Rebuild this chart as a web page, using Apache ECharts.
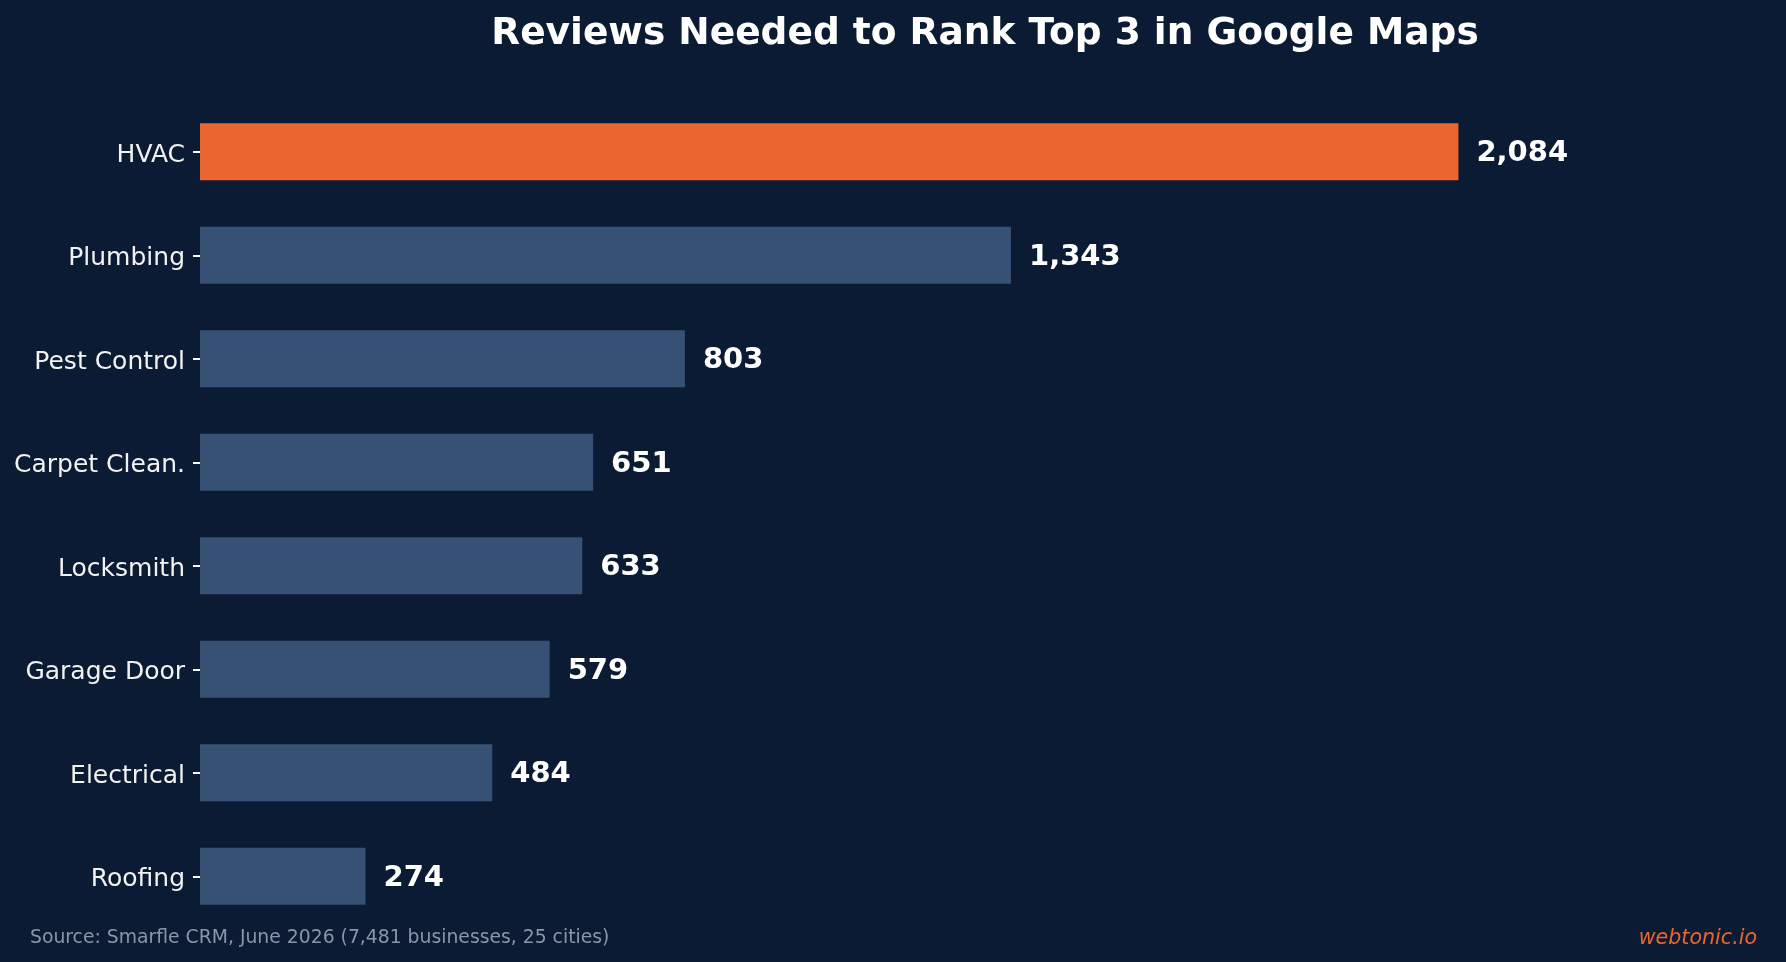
<!DOCTYPE html>
<html>
<head>
<meta charset="utf-8">
<script src="https://cdn.jsdelivr.net/npm/echarts@6/dist/echarts.min.js"></script>
<style>
  html, body { margin: 0; padding: 0; background: #0c1b34; }
  #main { width: 1786px; height: 962px; }
</style>
</head>
<body>
<div id="main"></div>
<script>
// trades, top to bottom
const categories = ['HVAC', 'Plumbing', 'Pest Control', 'Carpet Clean.', 'Locksmith', 'Garage Door', 'Electrical', 'Roofing'];
const reviews = [2084, 1343, 803, 651, 633, 579, 484, 274];
const highlightIndex = 0;

const BG = '#0c1b34';
const BAR = '#375175';
const ACCENT = '#eb6530';
const FONT = 'DejaVu Sans';

const chart = echarts.init(document.getElementById('main'));

const option = {
    backgroundColor: BG,
    animation: false,
    title: [
        {
            text: 'Reviews Needed to Rank Top 3 in Google Maps',
            left: 980,
            top: 10,
            textAlign: 'center',
            textStyle: { color: '#ffffff', fontFamily: FONT, fontWeight: 'bold', fontSize: 37.5 }
        },
        {
            text: 'Source: Smarfle CRM, June 2026 (7,481 businesses, 25 cities)',
            left: 30,
            top: 929,
            padding: 0,
            textStyle: { color: '#8a96a8', fontFamily: FONT, fontWeight: 'normal', fontSize: 18.8 }
        },
        {
            text: 'webtonic.io',
            right: 29,
            top: 928,
            padding: 0,
            textStyle: { color: ACCENT, fontFamily: FONT, fontStyle: 'italic', fontWeight: 'normal', fontSize: 20.6 }
        }
    ],
    grid: {
        left: 200,
        right: 16,
        top: 100,
        height: 828,
        containLabel: false
    },
    xAxis: {
        type: 'value',
        min: 0,
        max: 2600,
        show: false
    },
    yAxis: {
        type: 'category',
        data: categories,
        inverse: true,
        axisLine: { show: false },
        axisTick: { show: true, length: 7, alignWithLabel: true, lineStyle: { color: '#ffffff', width: 2 } },
        axisLabel: {
            margin: 15,
            formatter: '{a|{value}}',
            rich: {
                a: { color: '#f2f2f2', fontFamily: FONT, fontSize: 25, padding: [7, 0, 0, 0] }
            }
        },
        splitLine: { show: false }
    },
    series: [{
        type: 'bar',
        barWidth: '55%',
        data: reviews.map((v, i) => ({
            value: v,
            itemStyle: { color: i === highlightIndex ? ACCENT : BAR }
        })),
        label: {
            show: true,
            position: 'right',
            distance: 18,
            offset: [0, 2],
            color: '#ffffff',
            fontFamily: FONT,
            fontWeight: 'bold',
            fontSize: 29,
            formatter: p => p.value.toLocaleString('en-US')
        }
    }]
};

chart.setOption(option);
</script>
</body>
</html>
